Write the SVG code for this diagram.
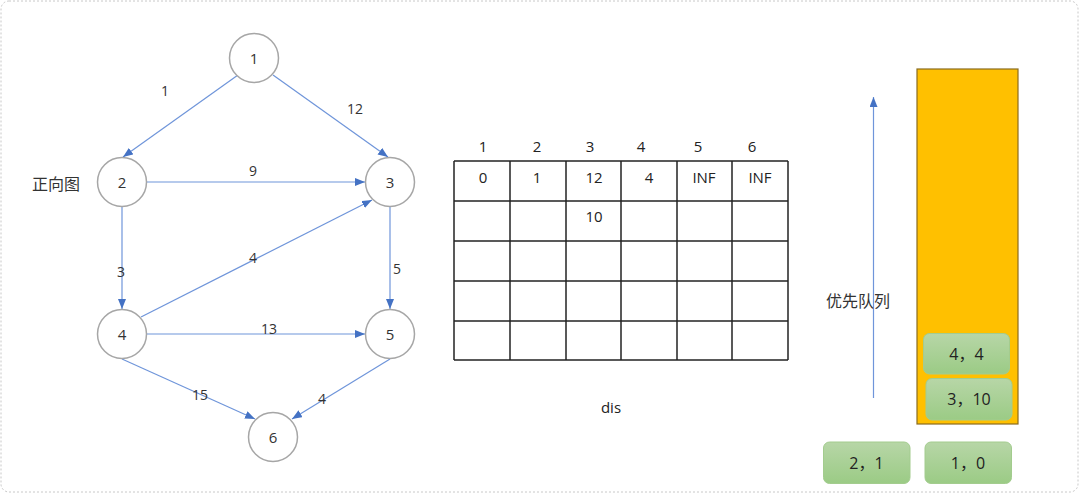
<svg xmlns="http://www.w3.org/2000/svg" width="1080" height="494" viewBox="0 0 1080 494">
<defs>
<marker id="ah" markerUnits="userSpaceOnUse" markerWidth="12" markerHeight="10" refX="10" refY="4" orient="auto">
<path d="M0,0 L10,4 L0,8 Z" fill="#4472C4"/>
</marker>
<linearGradient id="gg" x1="0" y1="0" x2="0" y2="1">
<stop offset="0" stop-color="#b7d6a7"/>
<stop offset="1" stop-color="#9bcb85"/>
</linearGradient>
<style>
text{font-family:"Open Sans","Noto Sans","Noto Sans CJK SC",sans-serif;fill:#333;text-anchor:middle;dominant-baseline:central}
.node circle{fill:#fff;stroke:#a6a6a6;stroke-width:1.5}
.node text{font-size:15px}
.edge{stroke:#6f95da;stroke-width:1.2;fill:none;marker-end:url(#ah)}
.lbl{font-size:14px}
.cjk{font-size:16px;font-family:"Noto Sans CJK SC",sans-serif}
.grid line{stroke:#222;stroke-width:1.5}
.tt{font-size:15px;fill:#222}
.qbox rect{fill:url(#gg);stroke:#a3cc8e;stroke-width:1}
.qbox text{font-size:16px;fill:#222}
</style>
</defs>
<rect x="1" y="1" width="1077" height="491" rx="8" fill="#fff" stroke="#c8c8c8" stroke-dasharray="2,2"/>
<g id="connectors">
<line class="edge" x1="238" y1="75" x2="123" y2="157"/>
<line class="edge" x1="273" y1="75" x2="388" y2="157"/>
<line class="edge" x1="147" y1="182" x2="365" y2="182"/>
<line class="edge" x1="122" y1="207" x2="122" y2="309"/>
<line class="edge" x1="141" y1="317" x2="372" y2="200"/>
<line class="edge" x1="390" y1="207" x2="390" y2="309"/>
<line class="edge" x1="147" y1="334" x2="365" y2="334"/>
<line class="edge" x1="122" y1="359" x2="255" y2="419"/>
<line class="edge" x1="390" y1="359" x2="292" y2="419"/>
<line class="edge" x1="873.5" y1="398" x2="873.5" y2="97"/>
</g>
<g id="edge-labels">
<text class="lbl" x="165" y="90">1</text>
<text class="lbl" x="355" y="108">12</text>
<text class="lbl" x="253" y="170">9</text>
<text class="lbl" x="121" y="271">3</text>
<text class="lbl" x="253" y="257">4</text>
<text class="lbl" x="397" y="268">5</text>
<text class="lbl" x="269" y="328">13</text>
<text class="lbl" x="200" y="394">15</text>
<text class="lbl" x="322" y="398">4</text>
</g>
<g id="n1" class="node"><circle cx="254" cy="58" r="24.5"/><text x="254" y="58">1</text></g>
<g id="n2" class="node"><circle cx="122" cy="182" r="24.5"/><text x="122" y="182">2</text></g>
<g id="n3" class="node"><circle cx="390" cy="182" r="24.5"/><text x="390" y="182">3</text></g>
<g id="n4" class="node"><circle cx="122" cy="334" r="24.5"/><text x="122" y="334">4</text></g>
<g id="n5" class="node"><circle cx="390" cy="334" r="24.5"/><text x="390" y="334">5</text></g>
<g id="n6" class="node"><circle cx="273" cy="437" r="24.5"/><text x="273" y="437">6</text></g>
<text class="cjk" x="56" y="183">正向图</text>
<g id="dis-table">
<g class="grid">
<line x1="454" y1="161" x2="788" y2="161"/>
<line x1="454" y1="201" x2="788" y2="201"/>
<line x1="454" y1="241" x2="788" y2="241"/>
<line x1="454" y1="281" x2="788" y2="281"/>
<line x1="454" y1="321" x2="788" y2="321"/>
<line x1="454" y1="360" x2="788" y2="360"/>
<line x1="454" y1="161" x2="454" y2="360"/>
<line x1="510" y1="161" x2="510" y2="360"/>
<line x1="566" y1="161" x2="566" y2="360"/>
<line x1="621" y1="161" x2="621" y2="360"/>
<line x1="677" y1="161" x2="677" y2="360"/>
<line x1="732" y1="161" x2="732" y2="360"/>
<line x1="788" y1="161" x2="788" y2="360"/>
</g>
<text class="tt" x="483" y="146">1</text>
<text class="tt" x="537" y="146">2</text>
<text class="tt" x="590" y="146">3</text>
<text class="tt" x="641" y="146">4</text>
<text class="tt" x="698" y="146">5</text>
<text class="tt" x="752" y="146">6</text>
<text class="tt" x="483" y="177">0</text>
<text class="tt" x="537" y="177">1</text>
<text class="tt" x="594" y="177">12</text>
<text class="tt" x="649" y="177">4</text>
<text class="tt" x="704" y="177">INF</text>
<text class="tt" x="760" y="177">INF</text>
<text class="tt" x="594" y="216">10</text>
<text class="tt" x="611" y="407">dis</text>
</g>
<g id="queue">
<rect x="917" y="69" width="101" height="355" fill="#FFC000" stroke="#8a6c1e" stroke-width="1.2"/>
</g>
<text class="cjk" x="858" y="300">优先队列</text>
<g id="q44" class="qbox"><rect x="923.5" y="333.5" width="86" height="40.5" rx="6"/><text x="966.5" y="354">4，4</text></g>
<g id="q310" class="qbox"><rect x="926" y="378.5" width="86" height="41.5" rx="6"/><text x="969" y="399">3，10</text></g>
<g id="q21" class="qbox"><rect x="823.5" y="442" width="86.5" height="41.5" rx="6"/><text x="866.5" y="463">2，1</text></g>
<g id="q10" class="qbox"><rect x="925" y="442" width="86.5" height="41.5" rx="6"/><text x="968" y="463">1，0</text></g>
</svg>
